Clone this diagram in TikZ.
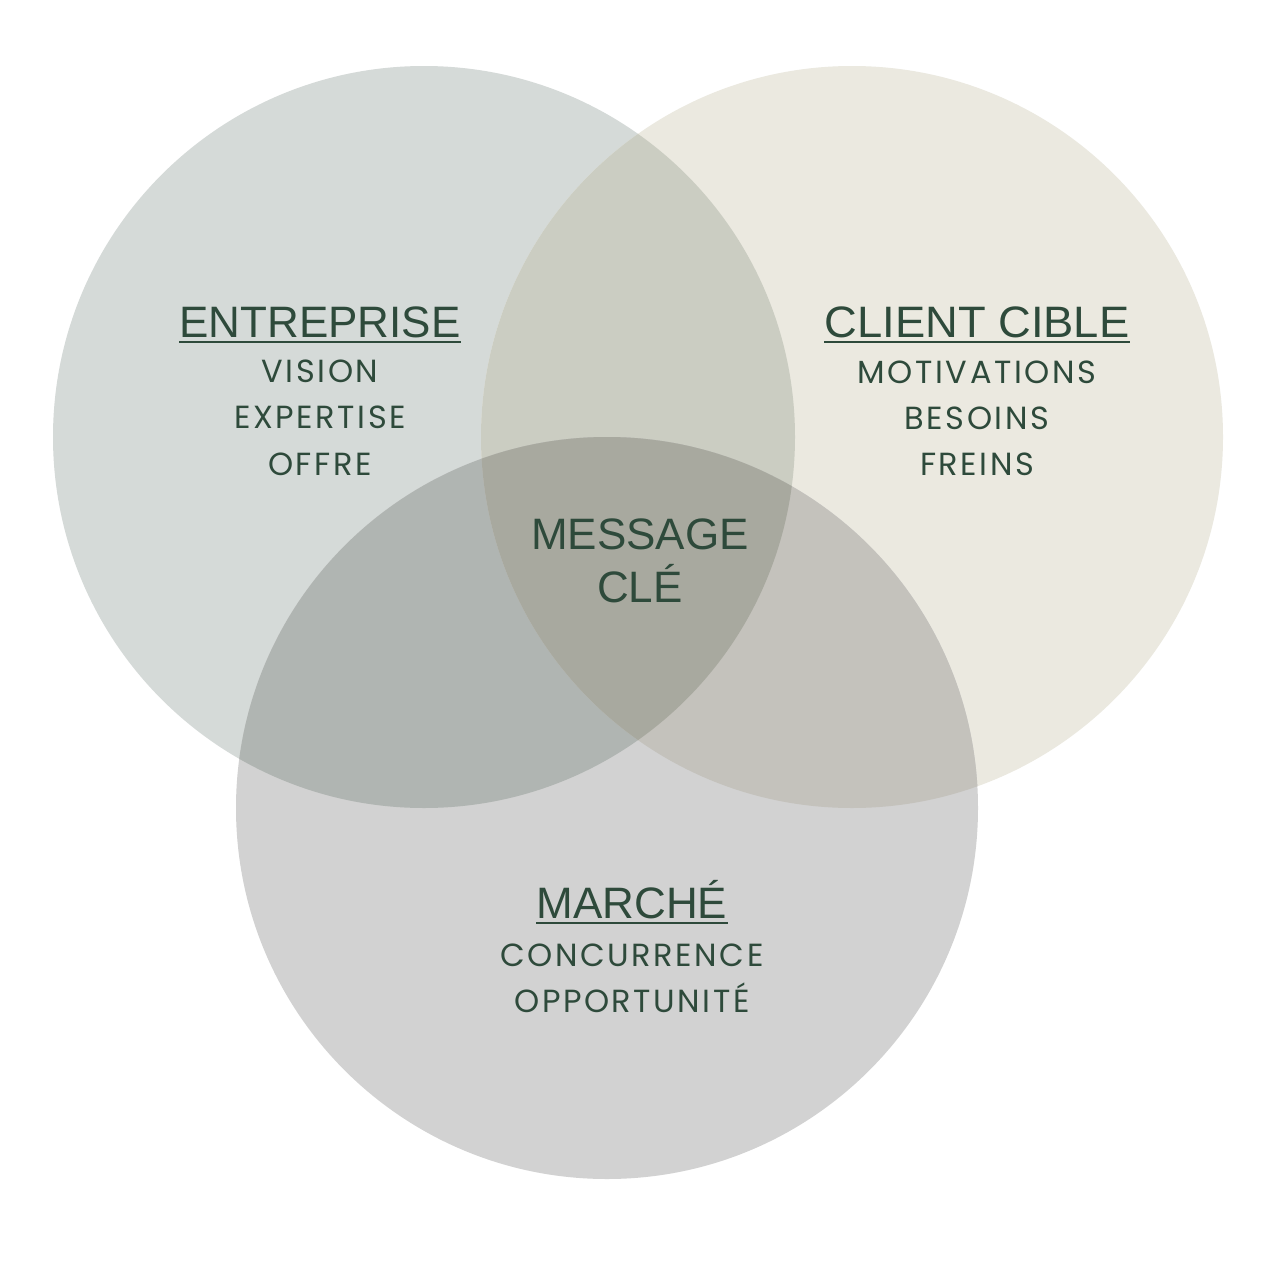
\documentclass[tikz,border=0pt]{standalone}
\usepackage{fontspec}
\setmainfont{Liberation Sans}
\newfontfamily\subfont[LetterSpace=8]{Poppins}
\definecolor{txt}{HTML}{2E4A3B}
\definecolor{cA}{HTML}{D5DAD8}
\definecolor{cB}{HTML}{EBE9E0}
\definecolor{cC}{HTML}{D2D2D2}
\definecolor{cAB}{HTML}{CBCDC2}
\definecolor{cAC}{HTML}{B0B5B2}
\definecolor{cBC}{HTML}{C4C2BC}
\definecolor{cABC}{HTML}{A8A99F}
\tikzset{
  head/.style={font=\fontsize{44}{44}\selectfont, text=txt, inner sep=0pt, anchor=base},
  item/.style={font=\subfont\fontsize{32}{32}\selectfont, text=txt, inner sep=0pt, anchor=base},
  uline/.style={draw=txt, line width=2pt}
}
\begin{document}
\begin{tikzpicture}[x=1pt,y=-1pt]
\useasboundingbox[fill=white] (0,0) rectangle (1282,1282);
\def\cA{(424,437) circle (371)}
\def\cB{(852,437) circle (371)}
\def\cC{(607,808) circle (371)}
\fill[cA] \cA;
\fill[cB] \cB;
\fill[cC] \cC;
\begin{scope}\clip \cA; \fill[cAB] \cB; \end{scope}
\begin{scope}\clip \cA; \fill[cAC] \cC; \end{scope}
\begin{scope}\clip \cB; \fill[cBC] \cC; \end{scope}
\begin{scope}\clip \cA; \clip \cB; \fill[cABC] \cC; \end{scope}

\node[head] (h1) at (320,337) {ENTREPRISE};
\draw[uline] ([yshift=-5pt]h1.base west) -- ([yshift=-5pt]h1.base east);
\node[item] (a1) at (320,382) {VISION};
\node[item] (a2) at (320,428) {EXPERTISE};
\node[item] (a3) at (320,475) {OFFRE};

\node[head,xscale=1.03] (h2) at (977,337) {CLIENT CIBLE};
\draw[uline] ([yshift=-5pt]h2.base west) -- ([yshift=-5pt]h2.base east);
\node[item] (b1) at (977,383) {MOTIVATIONS};
\node[item] (b2) at (977,429) {BESOINS};
\node[item] (b3) at (977,475) {FREINS};

\node[head] (m1) at (640,549) {MESSAGE};
\node[head] (m2) at (640,602) {CLÉ};

\node[head] (h3) at (632,918) {MARCHÉ};
\draw[uline] ([yshift=-5pt]h3.base west) -- ([yshift=-5pt]h3.base east);
\node[item] (c1) at (632,966) {CONCURRENCE};
\node[item] (c2) at (632,1012) {OPPORTUNITÉ};
\end{tikzpicture}
\end{document}
